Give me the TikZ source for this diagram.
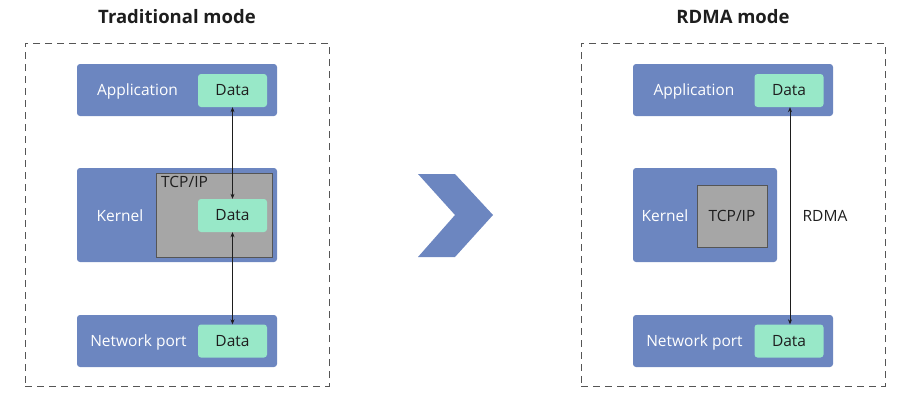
\documentclass[tikz,border=0pt]{standalone}
\usepackage{fontspec}
\setmainfont{Open Sans}
\usepackage{tikz}
\usetikzlibrary{arrows.meta,positioning}
\definecolor{layerblue}{RGB}{108,134,192}
\definecolor{datagreen}{RGB}{152,232,200}
\definecolor{stackgrey}{RGB}{166,166,166}
\definecolor{framegrey}{RGB}{85,85,85}
\definecolor{textdark}{RGB}{30,30,30}

\begin{document}
\begin{tikzpicture}[
    x=1pt, y=-1pt,
    frame/.style={draw=framegrey, dash pattern=on 7pt off 5pt, line width=0.8pt},
    layer/.style={fill=layerblue, rounded corners=3pt, minimum width=200pt, minimum height=52pt, inner sep=0pt},
    data/.style={fill=datagreen, rounded corners=3pt, minimum width=69pt, minimum height=33pt, inner sep=0pt, text=textdark, font=\fontsize{15.5}{18}\selectfont},
    stack/.style={fill=stackgrey, draw=framegrey, line width=0.6pt, inner sep=0pt, text=textdark, font=\fontsize{15.5}{18}\selectfont},
    label/.style={text=white, font=\fontsize{15.5}{18}\selectfont, inner sep=0pt},
    title/.style={font=\fontsize{18.5}{22}\selectfont\bfseries, text=textdark},
    link/.style={<->, >={Stealth[length=5pt,width=4pt]}, draw=textdark, line width=0.6pt}
]
    \useasboundingbox (0,0) rectangle (915,402);

    % Traditional mode
    \node[title] (titleL) at (177,17) {Traditional mode};
    \node[frame, minimum width=304pt, minimum height=343pt, inner sep=0pt] (frameL) at (177,214.5) {};

    \node[layer] (appL) at (177,90) {};
    \node[label] (appLabelL) at (137.5,91) {Application};
    \node[data] (dataAppL) at (232.5,90.5) {Data};

    \node[layer, minimum height=94pt] (kerL) at (177,215) {};
    \node[label] (kerLabelL) at (120,216) {Kernel};
    \node[stack, minimum width=116pt, minimum height=84pt] (tcpL) at (214,215) {};
    \node[anchor=north west, inner sep=0pt, text=textdark, font=\fontsize{15.5}{18}\selectfont] (tcpLabelL) at (161,176) {TCP/IP};
    \node[data] (dataKerL) at (232.5,215.5) {Data};

    \node[layer] (netL) at (177,341) {};
    \node[label] (netLabelL) at (138.5,342) {Network port};
    \node[data] (dataNetL) at (232.5,341) {Data};

    \draw[link] (dataAppL.south) -- (dataKerL.north);
    \draw[link] (dataKerL.south) -- (dataNetL.north);

    % Chevron
    \fill[layerblue] (418,174) -- (455,174) -- (493,215) -- (455,257) -- (418,257) -- (455,215) -- cycle;

    % RDMA mode
    \node[title] (titleR) at (733,17) {RDMA mode};
    \node[frame, minimum width=304pt, minimum height=343pt, inner sep=0pt] (frameR) at (733,214.5) {};

    \node[layer] (appR) at (733,90) {};
    \node[label] (appLabelR) at (694,91) {Application};
    \node[data] (dataAppR) at (789,90.5) {Data};

    \node[layer, minimum width=144pt, minimum height=94pt] (kerR) at (705,215) {};
    \node[label] (kerLabelR) at (665,216) {Kernel};
    \node[stack, minimum width=70pt, minimum height=62pt] (tcpR) at (732,216) {TCP/IP};

    \node[layer] (netR) at (733,341) {};
    \node[label] (netLabelR) at (694.5,342) {Network port};
    \node[data] (dataNetR) at (789,341) {Data};

    \draw[link] (dataAppR.south -| 790,0) -- (dataNetR.north -| 790,0);
    \node[text=textdark, font=\fontsize{15.5}{18}\selectfont] (rdmaLabel) at (825,216) {RDMA};
\end{tikzpicture}
\end{document}
